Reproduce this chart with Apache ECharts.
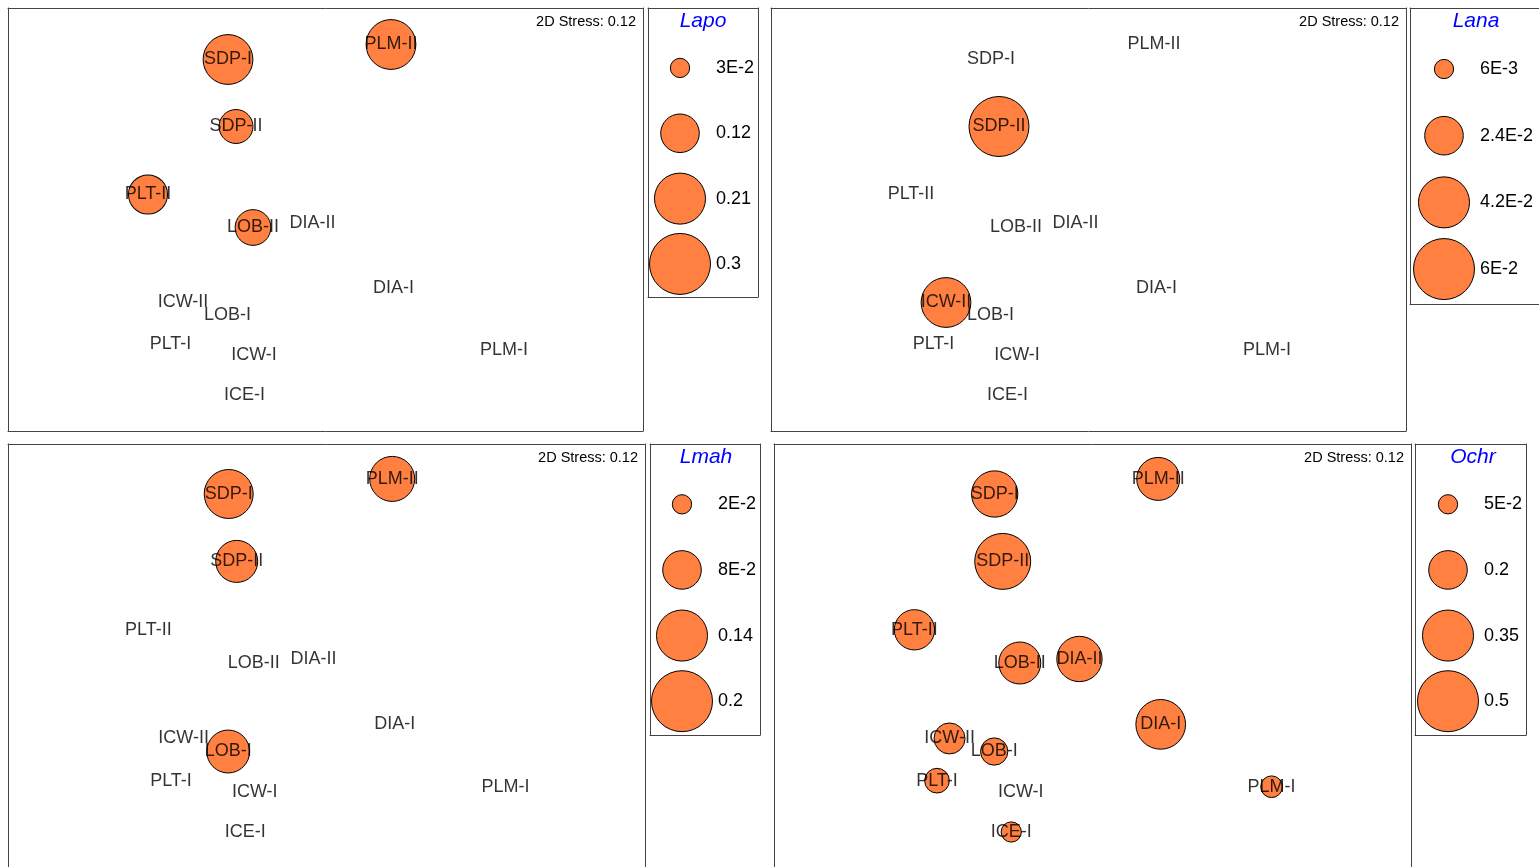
<!DOCTYPE html>
<html>
<head>
<meta charset="utf-8">
<title>nMDS bubble plots</title>
<script src="https://cdn.jsdelivr.net/npm/echarts@6/dist/echarts.min.js"></script>
<style>
  html, body { margin: 0; padding: 0; background: #fff; }
  #chart { width: 1539px; height: 867px; }
</style>
</head>
<body>
<div id="chart"></div>
<script>
// Sites and their nMDS ordination coordinates (shared by all four panels)
const sites = ['SDP-I', 'PLM-II', 'SDP-II', 'PLT-II', 'LOB-II', 'DIA-II', 'DIA-I',
               'ICW-II', 'LOB-I', 'PLT-I', 'ICW-I', 'ICE-I', 'PLM-I'];
const mdsX = [-0.40, 0.415, -0.36, -0.80, -0.275, 0.0225, 0.4275,
              -0.625, -0.4025, -0.6875, -0.27, -0.3175, 0.98];
const mdsY = [0.865, 0.94, 0.53, 0.19, 0.025, 0.045, -0.28,
              -0.35, -0.415, -0.56, -0.615, -0.815, -0.59];

// Abundance of each taxon at each site (0 = absent, label only)
const lapo = [0.20, 0.20, 0.093, 0.123, 0.103, 0, 0, 0, 0, 0, 0, 0, 0];
const lana = [0, 0, 0.058, 0, 0, 0, 0, 0.040, 0, 0, 0, 0, 0];
const lmah = [0.129, 0.109, 0.095, 0, 0, 0, 0, 0, 0.099, 0, 0, 0, 0];
const ochr = [0.288, 0.248, 0.421, 0.218, 0.237, 0.276, 0.332, 0.129, 0.100, 0.082, 0, 0.055, 0.063];

// Bubble-size keys
const lapoKey = [0.03, 0.12, 0.21, 0.3];
const lapoKeyLabels = ['3E-2', '0.12', '0.21', '0.3'];
const lanaKey = [0.006, 0.024, 0.042, 0.06];
const lanaKeyLabels = ['6E-3', '2.4E-2', '4.2E-2', '6E-2'];
const lmahKey = [0.02, 0.08, 0.14, 0.2];
const lmahKeyLabels = ['2E-2', '8E-2', '0.14', '0.2'];
const ochrKey = [0.05, 0.2, 0.35, 0.5];
const ochrKeyLabels = ['5E-2', '0.2', '0.35', '0.5'];

const stressText = '2D Stress: 0.12';

const FONT = 'Arial, "Liberation Sans", sans-serif';
const BUBBLE = '#FF8040';
const BORDER = '#444';
const MAX_DIAM = 61;

// Panel layout (pixels); "sides" lists which frame edges fall inside the page
const panels = [
  { name: 'Lapo', vals: lapo, key: lapoKey, keyLabels: lapoKeyLabels,
    plot: { left: 8, top: 8, width: 635, height: 423 }, plotSides: 'tblr', yRange: [-0.9925, 1.1225],
    box: { left: 648, top: 8, width: 110, height: 289 }, boxSides: 'tblr',
    keyCx: 680, keyTop: 35.3, keyH: 261.3, labelX: 716, titleX: 703 },
  { name: 'Lana', vals: lana, key: lanaKey, keyLabels: lanaKeyLabels,
    plot: { left: 771, top: 8, width: 635, height: 423 }, plotSides: 'tblr', yRange: [-0.9925, 1.1225],
    box: { left: 1410, top: 8, width: 129, height: 296 }, boxSides: 'tbl',
    keyCx: 1444, keyTop: 35.7, keyH: 266.7, labelX: 1480, titleX: 1476 },
  { name: 'Lmah', vals: lmah, key: lmahKey, keyLabels: lmahKeyLabels,
    plot: { left: 8, top: 444, width: 637, height: 423 }, plotSides: 'tlr', yRange: [-0.989, 1.1135],
    box: { left: 650, top: 444, width: 110, height: 291 }, boxSides: 'tblr',
    keyCx: 682, keyTop: 471.5, keyH: 262.5, labelX: 718, titleX: 706 },
  { name: 'Ochr', vals: ochr, key: ochrKey, keyLabels: ochrKeyLabels,
    plot: { left: 774, top: 444, width: 637, height: 423 }, plotSides: 'tlr', yRange: [-0.989, 1.1135],
    box: { left: 1415, top: 444, width: 111, height: 291 }, boxSides: 'tblr',
    keyCx: 1448, keyTop: 471.5, keyH: 262.5, labelX: 1484, titleX: 1473 }
];

const grid = [], xAxis = [], yAxis = [], series = [], title = [];

// A framed grid: the frame edges are drawn as axis lines so that edges
// falling outside the page can simply be left out.
function frame(rect, sides, xRange, yRange) {
  const g = grid.length;
  grid.push(Object.assign({ show: false, containLabel: false }, rect));
  const edge = on => ({
    show: true,
    axisLine: { show: on, onZero: false, lineStyle: { color: BORDER, width: 1 } },
    axisTick: { show: false }, axisLabel: { show: false }, splitLine: { show: false }
  });
  const xi = xAxis.length, yi = yAxis.length;
  xAxis.push(Object.assign({ type: 'value', gridIndex: g, position: 'bottom',
    min: xRange[0], max: xRange[1] }, edge(sides.includes('b'))));
  xAxis.push(Object.assign({ type: 'value', gridIndex: g, position: 'top',
    min: xRange[0], max: xRange[1] }, edge(sides.includes('t'))));
  yAxis.push(Object.assign({ type: 'value', gridIndex: g, position: 'left',
    min: yRange[0], max: yRange[1] }, edge(sides.includes('l'))));
  yAxis.push(Object.assign({ type: 'value', gridIndex: g, position: 'right',
    min: yRange[0], max: yRange[1] }, edge(sides.includes('r'))));
  return { x: xi, y: yi };
}

panels.forEach((p) => {
  const keyMax = Math.max(...p.key);
  const diam = v => v > 0 ? MAX_DIAM * Math.sqrt(v / keyMax) : 0;

  // ordination plot
  const ax = frame(p.plot, p.plotSides, [-1.5, 1.675], p.yRange);
  const pts = sites.map((s, i) => ({ name: s, value: [mdsX[i], mdsY[i], p.vals[i]] }));

  series.push({
    type: 'scatter', xAxisIndex: ax.x, yAxisIndex: ax.y, z: 2,
    data: pts.filter(d => d.value[2] > 0),
    symbolSize: v => diam(v[2]),
    itemStyle: { color: BUBBLE, borderColor: '#000', borderWidth: 1, opacity: 1 },
    label: { show: false },
    emphasis: { disabled: true },
    silent: true
  });
  series.push({
    type: 'scatter', xAxisIndex: ax.x, yAxisIndex: ax.y, z: 3,
    data: pts,
    symbolSize: 1,
    itemStyle: { color: 'rgba(0,0,0,0)', borderWidth: 0 },
    label: { show: true, position: 'inside', formatter: '{b}',
             color: '#000', fontSize: 18, fontFamily: FONT },
    emphasis: { disabled: true },
    silent: true
  });

  // key box
  frame(p.box, p.boxSides, [0, 1], [0, 1]);

  // key circles with their values as axis labels
  const gKey = grid.length;
  grid.push({ left: p.keyCx - 10, width: 20, top: p.keyTop, height: p.keyH, show: false });
  const kx = xAxis.length, ky = yAxis.length;
  xAxis.push({ type: 'category', gridIndex: gKey, data: [p.name], show: false });
  yAxis.push({
    type: 'category', gridIndex: gKey, data: p.keyLabels, inverse: true, position: 'right',
    axisLine: { show: false }, axisTick: { show: false }, splitLine: { show: false },
    axisLabel: { margin: p.labelX - (p.keyCx + 10), color: '#000', fontSize: 18, fontFamily: FONT }
  });
  series.push({
    type: 'scatter', xAxisIndex: kx, yAxisIndex: ky, z: 2,
    data: p.key.map((v, i) => [p.name, p.keyLabels[i], v]),
    symbolSize: v => diam(v[2]),
    itemStyle: { color: BUBBLE, borderColor: '#000', borderWidth: 1, opacity: 1 },
    emphasis: { disabled: true },
    silent: true
  });

  // stress note and taxon name
  title.push({
    text: stressText, left: p.plot.left + p.plot.width - 7, top: p.plot.top + 6,
    textAlign: 'right', padding: 0,
    textStyle: { fontSize: 14.5, fontWeight: 'normal', color: '#000', fontFamily: FONT }
  });
  title.push({
    text: p.name, left: p.titleX, top: p.box.top + 3,
    textAlign: 'center', padding: 0,
    textStyle: { fontSize: 21, fontWeight: 'normal', fontStyle: 'italic', color: '#0000FF', fontFamily: FONT }
  });
});

const chart = echarts.init(document.getElementById('chart'), null, { renderer: 'canvas' });
chart.setOption({
  animation: false,
  backgroundColor: '#fff',
  title, grid, xAxis, yAxis, series
});
</script>
</body>
</html>
